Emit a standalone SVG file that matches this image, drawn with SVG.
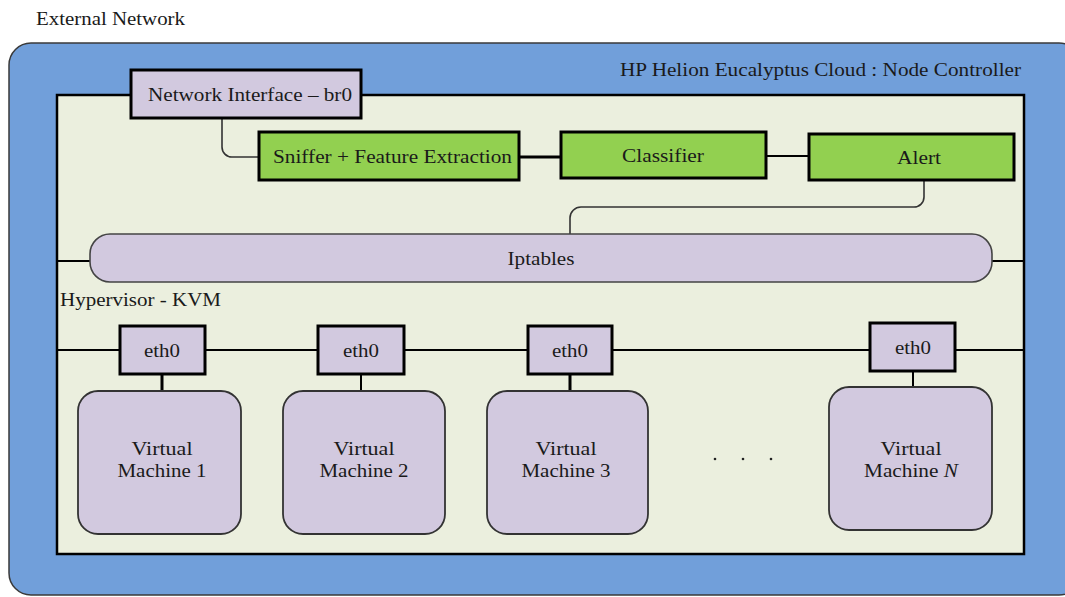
<svg xmlns="http://www.w3.org/2000/svg" width="1065" height="597" viewBox="0 0 1065 597">
<style>
text{font-family:"Liberation Serif","Times New Roman",serif;font-size:18px;fill:#1a1a1a}
.c{text-anchor:middle}
.lav{fill:#D2C9DF}
.grn{fill:#92D050;stroke:#000;stroke-width:3}
.box{stroke:#000;stroke-width:3}
.vm{fill:#D2C9DF;stroke:#333;stroke-width:1.8}
.ln{fill:none;stroke:#000;stroke-width:2}
.thin{fill:none;stroke:#333;stroke-width:1.6}
</style>
<rect width="1065" height="597" fill="#fff"/>
<text x="36" y="25" textLength="149" lengthAdjust="spacingAndGlyphs">External Network</text>
<g id="cloud">
<rect x="9" y="43" width="1072" height="552" rx="22" fill="#719FDA" stroke="#3a3a3a" stroke-width="1.5"/>
<text x="1021" y="76" text-anchor="end" textLength="401" lengthAdjust="spacingAndGlyphs">HP Helion Eucalyptus Cloud : Node Controller</text>
</g>
<g id="hypervisor">
<rect x="57" y="95" width="967" height="459" fill="#EBEFDE" stroke="#000" stroke-width="2.5"/>
<text x="60" y="306" textLength="161" lengthAdjust="spacingAndGlyphs">Hypervisor - KVM</text>
</g>
<g id="connectors">
<path class="thin" d="M222,118 V147 A10,10 0 0 0 232,157 H259"/>
<path fill="none" stroke="#000" stroke-width="3" d="M519,157 H561"/>
<path class="ln" d="M766,156 H809"/>
<path class="thin" d="M924,180 V197 A10,10 0 0 1 914,207 H581 A11,11 0 0 0 570,218 V234"/>
<path class="ln" d="M57,261 H90 M992,261 H1024"/>
<path class="ln" d="M57,350 H1024"/>
<path fill="none" stroke="#000" stroke-width="3" d="M162,374 V391 M570,374 V391"/>
<path class="ln" d="M361,374 V391 M913,371 V387"/>
</g>
<g id="br0">
<rect class="lav box" x="131" y="70" width="230" height="48"/>
<text x="148" y="101" textLength="204" lengthAdjust="spacingAndGlyphs">Network Interface – br0</text>
</g>
<g id="sniffer">
<rect class="grn" x="259" y="132" width="260" height="48"/>
<text x="273" y="163" textLength="239" lengthAdjust="spacingAndGlyphs">Sniffer + Feature Extraction</text>
</g>
<g id="classifier">
<rect class="grn" x="561" y="132" width="205" height="46"/>
<text x="663" y="162" class="c" textLength="82" lengthAdjust="spacingAndGlyphs">Classifier</text>
</g>
<g id="alert">
<rect class="grn" x="809" y="134" width="205" height="46"/>
<text x="919" y="164" class="c" textLength="44" lengthAdjust="spacingAndGlyphs">Alert</text>
</g>
<g id="iptables">
<rect x="90" y="234" width="902" height="48" rx="20" fill="#D2C9DF" stroke="#444" stroke-width="1.6"/>
<text x="541" y="265" class="c" textLength="67" lengthAdjust="spacingAndGlyphs">Iptables</text>
</g>
<g id="eth0-1">
<rect class="lav box" x="120" y="326" width="85" height="48" stroke-width="2.5"/>
<text x="162" y="357" class="c" textLength="36" lengthAdjust="spacingAndGlyphs">eth0</text>
</g>
<g id="eth0-2">
<rect class="lav box" x="318" y="326" width="86" height="48"/>
<text x="361" y="357" class="c" textLength="36" lengthAdjust="spacingAndGlyphs">eth0</text>
</g>
<g id="eth0-3">
<rect class="lav box" x="528" y="326" width="84" height="48" stroke-width="2.5"/>
<text x="570" y="357" class="c" textLength="36" lengthAdjust="spacingAndGlyphs">eth0</text>
</g>
<g id="eth0-n">
<rect class="lav box" x="870" y="323" width="85" height="48"/>
<text x="913" y="354" class="c" textLength="36" lengthAdjust="spacingAndGlyphs">eth0</text>
</g>
<g id="vm1">
<rect class="vm" x="78" y="391" width="163" height="143" rx="20"/>
<text x="162" y="455" class="c" textLength="61" lengthAdjust="spacingAndGlyphs">Virtual</text>
<text x="162" y="477" class="c" textLength="89" lengthAdjust="spacingAndGlyphs">Machine 1</text>
</g>
<g id="vm2">
<rect class="vm" x="283" y="391" width="162" height="143" rx="20"/>
<text x="364" y="455" class="c" textLength="61" lengthAdjust="spacingAndGlyphs">Virtual</text>
<text x="364" y="477" class="c" textLength="89" lengthAdjust="spacingAndGlyphs">Machine 2</text>
</g>
<g id="vm3">
<rect class="vm" x="487" y="391" width="161" height="143" rx="20"/>
<text x="566" y="455" class="c" textLength="61" lengthAdjust="spacingAndGlyphs">Virtual</text>
<text x="566" y="477" class="c" textLength="89" lengthAdjust="spacingAndGlyphs">Machine 3</text>
</g>
<g id="dots" fill="#222">
<circle cx="715" cy="459" r="1.3"/>
<circle cx="743" cy="459" r="1.3"/>
<circle cx="771" cy="459" r="1.3"/>
</g>
<g id="vmN">
<rect class="vm" x="829" y="387" width="163" height="143" rx="20"/>
<text x="911" y="455" class="c" textLength="61" lengthAdjust="spacingAndGlyphs">Virtual</text>
<text x="911" y="477" class="c" textLength="94" lengthAdjust="spacingAndGlyphs">Machine <tspan font-style="italic">N</tspan></text>
</g>
</svg>
